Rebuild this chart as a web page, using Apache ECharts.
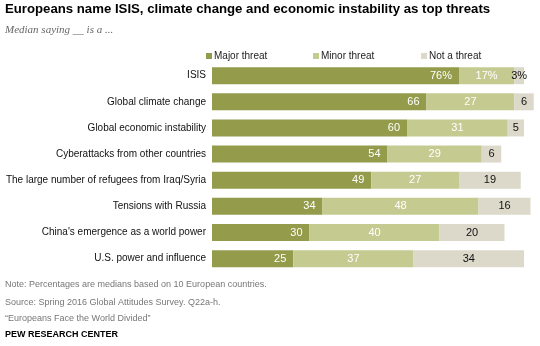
<!DOCTYPE html>
<html><head><meta charset="utf-8">
<script src="https://cdn.jsdelivr.net/npm/echarts@6/dist/echarts.min.js"></script>
<style>html,body{margin:0;padding:0;background:#fff}#c{width:540px;height:346px}</style>
</head><body><div id="c"></div>
<script>
var categories = ["ISIS","Global climate change","Global economic instability","Cyberattacks from other countries","The large number of refugees from Iraq/Syria","Tensions with Russia","China's emergence as a world power","U.S. power and influence"];
var major = [76,66,60,54,49,34,30,25];
var minor = [17,27,31,29,27,48,40,37];
var notThreat = [3,6,5,6,19,16,20,34];
var seriesNames = ["Major threat","Minor threat","Not a threat"];
var colors = ["#949c4c","#c5cb90","#dcd9cb"];

var chart = echarts.init(document.getElementById('c'), null, {renderer:'canvas'});
function fmt(p){ return p.dataIndex===0 ? p.value+'%' : p.value; }
var font = 'Liberation Sans, Arial, sans-serif';
function legendAt(i, left){
  return {data:[seriesNames[i]], left:left, top:51, itemWidth:6, itemHeight:6, itemGap:0,
    icon:'rect', textStyle:{fontFamily:font,fontSize:10,color:'#222',padding:[0,0,0,-3]}, padding:0};
}
chart.setOption({
  animation:false,
  color: colors,
  title:[
    {text:'Europeans name ISIS, climate change and economic instability as top threats', left:5, top:3, padding:0,
     textStyle:{fontFamily:font,fontWeight:'bold',fontSize:13.2,color:'#000'}},
    {text:'Median saying __ is a ...', left:5, top:25, padding:0,
     textStyle:{fontFamily:'Liberation Serif, serif',fontStyle:'italic',fontWeight:'normal',fontSize:11,color:'#666'}}
  ],
  legend:[legendAt(0,206), legendAt(1,313), legendAt(2,421)],
  grid:{left:212, width:325, top:62.6, height:209.1, containLabel:false},
  xAxis:{type:'value', min:0, max:100, show:false},
  yAxis:{type:'category', data:categories, inverse:true,
    axisLine:{show:false}, axisTick:{show:false},
    axisLabel:{fontFamily:font, fontSize:10, color:'#111', margin:6}},
  series:[
    {name:seriesNames[0], type:'bar', stack:'a', data:major, barWidth:17,
     itemStyle:{color:colors[0]},
     label:{show:true, position:'insideRight', color:'#fff', fontFamily:font, fontSize:11, formatter:fmt, distance:7}},
    {name:seriesNames[1], type:'bar', stack:'a', data:minor, barWidth:17,
     itemStyle:{color:colors[1]},
     label:{show:true, position:'inside', color:'#fff', fontFamily:font, fontSize:11, formatter:fmt}},
    {name:seriesNames[2], type:'bar', stack:'a', data:notThreat, barWidth:17,
     itemStyle:{color:colors[2]},
     label:{show:true, position:'inside', color:'#111', fontFamily:font, fontSize:11, formatter:fmt}}
  ],
  graphic:[
    {type:'text', left:5, top:280, style:{text:'Note: Percentages are medians based on 10 European countries.', font:'9px Liberation Sans, Arial, sans-serif', fill:'#777'}},
    {type:'text', left:5, top:298, style:{text:'Source: Spring 2016 Global Attitudes Survey. Q22a-h.', font:'9px Liberation Sans, Arial, sans-serif', fill:'#777'}},
    {type:'text', left:5, top:314, style:{text:'\u201cEuropeans Face the World Divided\u201d', font:'9px Liberation Sans, Arial, sans-serif', fill:'#777'}},
    {type:'text', left:5, top:330, style:{text:'PEW RESEARCH CENTER', font:'bold 9px Liberation Sans, Arial, sans-serif', fill:'#000'}}
  ]
});
</script></body></html>
